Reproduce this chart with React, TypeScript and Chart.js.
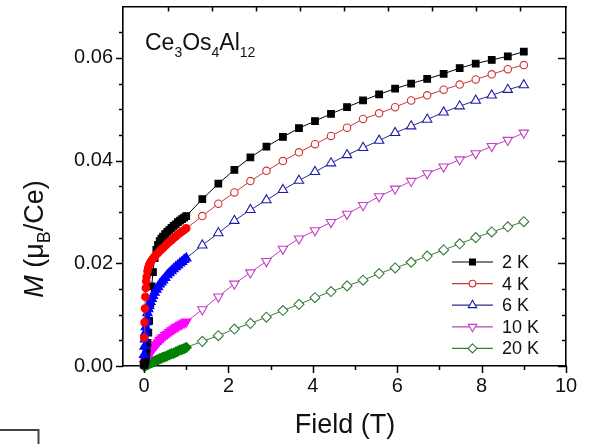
import React, { useEffect, useRef } from "react";
import { Chart, registerables } from "chart.js";

Chart.register(...registerables);

// ---------- DATA ----------
// Field values (T): dense low-field sweep, then sparse high-field points
const fieldLow = [0, 0.01, 0.02, 0.03, 0.04, 0.05, 0.06, 0.08, 0.1, 0.12, 0.15, 0.18, 0.21, 0.25, 0.29, 0.33, 0.37, 0.41, 0.45, 0.5, 0.55, 0.6, 0.65, 0.7, 0.75, 0.8, 0.85, 0.9, 0.95, 1.0];
const fieldHigh = [1.38, 1.76, 2.14, 2.52, 2.9, 3.29, 3.67, 4.05, 4.43, 4.81, 5.19, 5.57, 5.95, 6.33, 6.71, 7.1, 7.48, 7.86, 8.24, 8.62, 9.0];

const m2KLow = [0.0002, 0.0004, 0.0007, 0.0011, 0.0016, 0.0022, 0.0029, 0.0045, 0.0065, 0.0088, 0.0122, 0.0155, 0.0183, 0.021, 0.0226, 0.0236, 0.0243, 0.0248, 0.0252, 0.0257, 0.0261, 0.0265, 0.0269, 0.0273, 0.0276, 0.028, 0.0283, 0.0286, 0.0289, 0.0292];
const m2KHigh = [0.0325, 0.0355, 0.0382, 0.0406, 0.0427, 0.0446, 0.0463, 0.0477, 0.0491, 0.0504, 0.0517, 0.0529, 0.054, 0.055, 0.0559, 0.0569, 0.058, 0.0589, 0.0596, 0.0603, 0.0612];

const m4KLow = [0.0055, 0.0085, 0.0112, 0.0135, 0.0152, 0.0165, 0.0174, 0.0185, 0.0192, 0.0197, 0.0202, 0.0206, 0.0209, 0.0213, 0.0217, 0.022, 0.0224, 0.0227, 0.023, 0.0234, 0.0238, 0.0242, 0.0245, 0.0249, 0.0252, 0.0256, 0.0259, 0.0262, 0.0265, 0.0268];
const m4KHigh = [0.0292, 0.0316, 0.0338, 0.036, 0.038, 0.0399, 0.0416, 0.0432, 0.0448, 0.0464, 0.0481, 0.0492, 0.0504, 0.0517, 0.0527, 0.0538, 0.0548, 0.0558, 0.0568, 0.0578, 0.0586];

const m6KLow = [0.0022, 0.0038, 0.0052, 0.0065, 0.0076, 0.0085, 0.0092, 0.0103, 0.0111, 0.0117, 0.0125, 0.0131, 0.0137, 0.0143, 0.0149, 0.0154, 0.0159, 0.0163, 0.0167, 0.0172, 0.0177, 0.0181, 0.0185, 0.0189, 0.0193, 0.0196, 0.02, 0.0203, 0.0207, 0.021];
const m6KHigh = [0.0235, 0.0259, 0.0283, 0.0304, 0.0323, 0.0343, 0.0361, 0.0378, 0.0395, 0.0411, 0.0425, 0.0439, 0.0454, 0.0467, 0.048, 0.0494, 0.0506, 0.0517, 0.0527, 0.0538, 0.0547];

const m10KLow = [0.0003, 0.0004, 0.0006, 0.0008, 0.001, 0.0011, 0.0013, 0.0016, 0.0019, 0.0022, 0.0026, 0.003, 0.0034, 0.0038, 0.0042, 0.0046, 0.005, 0.0053, 0.0056, 0.006, 0.0063, 0.0066, 0.0069, 0.0072, 0.0075, 0.0077, 0.008, 0.0082, 0.0084, 0.0086];
const m10KHigh = [0.011, 0.0135, 0.016, 0.0182, 0.0204, 0.0228, 0.0248, 0.0264, 0.028, 0.0296, 0.0313, 0.033, 0.0345, 0.036, 0.0375, 0.0388, 0.0402, 0.0414, 0.0428, 0.044, 0.0454];

const m20KLow = [0.0, 0.0001, 0.0001, 0.0002, 0.0002, 0.0002, 0.0003, 0.0003, 0.0004, 0.0005, 0.0006, 0.0007, 0.0008, 0.0009, 0.0011, 0.0012, 0.0014, 0.0015, 0.0017, 0.0018, 0.002, 0.0022, 0.0024, 0.0025, 0.0027, 0.0029, 0.0031, 0.0032, 0.0034, 0.0036];
const m20KHigh = [0.0048, 0.0059, 0.0072, 0.0083, 0.0095, 0.0108, 0.012, 0.0133, 0.0145, 0.0156, 0.0167, 0.018, 0.0191, 0.0202, 0.0214, 0.0226, 0.0238, 0.025, 0.0261, 0.0271, 0.0281];

const seriesLabels = ["2 K", "4 K", "6 K", "10 K", "20 K"];

const xTickValues = [0, 2, 4, 6, 8, 10];
const xMinorTicks = [1, 3, 5, 7, 9];
const yTickValues = [0, 0.02, 0.04, 0.06];
const yMinorTicks = [0.005, 0.01, 0.015, 0.025, 0.03, 0.035, 0.045, 0.05, 0.055, 0.065];
const topTicks = [1, 2, 3, 4, 5, 6, 7, 8, 9];

// ---------- STYLES ----------
const FONT = "'Liberation Sans', Arial, Helvetica, sans-serif";
const LOW_COUNT = fieldLow.length;

const seriesStyles = [
  { line: "#000000", edge: "#000000", dense: "#000000", filled: true, style: "rect", rot: 0, r: 4.7, order: 3 },
  { line: "#c43a3a", edge: "#d03030", dense: "#ff0000", filled: false, style: "circle", rot: 0, r: 3.7, order: 1 },
  { line: "#2b2b8c", edge: "#1c1ca8", dense: "#0000ff", filled: false, style: "triangle", rot: 0, r: 5.4, order: 2 },
  { line: "#c040c0", edge: "#c03ec0", dense: "#ff00ff", filled: false, style: "triangle", rot: 180, r: 5.4, order: 4 },
  { line: "#3c7c3c", edge: "#3a7a3a", dense: "#008000", filled: false, style: "rectRot", rot: 0, r: 5.0, order: 5 },
];

const seriesLow = [m2KLow, m4KLow, m6KLow, m10KLow, m20KLow];
const seriesHigh = [m2KHigh, m4KHigh, m6KHigh, m10KHigh, m20KHigh];

function drawMarker(ctx: CanvasRenderingContext2D, style: string, x: number, y: number, r: number, rot: number, fill: string, stroke: string) {
  ctx.beginPath();
  if (style === "rect") {
    const s = r * Math.SQRT1_2;
    ctx.rect(x - s, y - s, 2 * s, 2 * s);
  } else if (style === "circle") {
    ctx.arc(x, y, r, 0, Math.PI * 2);
  } else if (style === "triangle") {
    let a = (rot * Math.PI) / 180;
    for (let i = 0; i < 3; i++) {
      const px = x + Math.sin(a) * r;
      const py = y - Math.cos(a) * r;
      if (i === 0) ctx.moveTo(px, py);
      else ctx.lineTo(px, py);
      a += (2 * Math.PI) / 3;
    }
    ctx.closePath();
  } else if (style === "rectRot") {
    ctx.moveTo(x, y - r);
    ctx.lineTo(x + r, y);
    ctx.lineTo(x, y + r);
    ctx.lineTo(x - r, y);
    ctx.closePath();
  }
  ctx.fillStyle = fill;
  ctx.fill();
  ctx.strokeStyle = stroke;
  ctx.lineWidth = 1.1;
  ctx.stroke();
}

const decorPlugin = {
  id: "decor",
  afterDraw(chart: any) {
    const ctx: CanvasRenderingContext2D = chart.ctx;
    const area = chart.chartArea;
    const xs = chart.scales.x;
    const ys = chart.scales.y;
    const xt = chart.scales.xTop;
    ctx.save();
    ctx.strokeStyle = "#000";
    ctx.lineWidth = 1.5;
    const seg = (x1: number, y1: number, x2: number, y2: number) => {
      ctx.beginPath();
      ctx.moveTo(x1, y1);
      ctx.lineTo(x2, y2);
      ctx.stroke();
    };
    xTickValues.forEach((v) => {
      const p = Math.round(xs.getPixelForValue(v)) + 0.5;
      seg(p, area.bottom, p, area.bottom + 7);
    });
    xMinorTicks.forEach((v) => {
      const p = Math.round(xs.getPixelForValue(v)) + 0.5;
      seg(p, area.bottom, p, area.bottom + 4);
    });
    yTickValues.forEach((v) => {
      const p = Math.round(ys.getPixelForValue(v)) + 0.5;
      seg(area.left, p, area.left - 7, p);
      seg(area.right, p, area.right - 8, p);
    });
    yMinorTicks.forEach((v) => {
      const p = Math.round(ys.getPixelForValue(v)) + 0.5;
      seg(area.left, p, area.left - 4, p);
      seg(area.right, p, area.right - 4, p);
    });
    topTicks.forEach((v) => {
      const p = Math.round(xt.getPixelForValue(v)) + 0.5;
      seg(p, area.top, p, area.top + 5);
    });

    // stray box at bottom-left of the figure
    ctx.strokeStyle = "#444";
    ctx.lineWidth = 2;
    ctx.beginPath();
    ctx.moveTo(0, 430);
    ctx.lineTo(38.5, 430);
    ctx.lineTo(38.5, 444);
    ctx.stroke();

    ctx.fillStyle = "#111";
    // x title
    ctx.font = `27px ${FONT}`;
    ctx.textAlign = "center";
    ctx.textBaseline = "alphabetic";
    ctx.fillText("Field (T)", 345, 433);

    // y title (rotated) M (μB/Ce)
    ctx.save();
    ctx.translate(43, 239);
    ctx.rotate(-Math.PI / 2);
    ctx.textAlign = "left";
    const parts = [
      { t: "M", f: `italic 27px ${FONT}`, dy: 0 },
      { t: " (\u03bc", f: `27px ${FONT}`, dy: 0 },
      { t: "B", f: `18px ${FONT}`, dy: 7 },
      { t: "/Ce)", f: `27px ${FONT}`, dy: 0 },
    ];
    let total = 0;
    parts.forEach((p) => {
      ctx.font = p.f;
      total += ctx.measureText(p.t).width;
    });
    let cx = -total / 2;
    parts.forEach((p) => {
      ctx.font = p.f;
      ctx.fillText(p.t, cx, p.dy);
      cx += ctx.measureText(p.t).width;
    });
    ctx.restore();

    // annotation Ce3Os4Al12
    ctx.textAlign = "left";
    const ann = [
      { t: "Ce", f: `23px ${FONT}`, dy: 0 },
      { t: "3", f: `14px ${FONT}`, dy: 7 },
      { t: "Os", f: `23px ${FONT}`, dy: 0 },
      { t: "4", f: `14px ${FONT}`, dy: 7 },
      { t: "Al", f: `23px ${FONT}`, dy: 0 },
      { t: "12", f: `14px ${FONT}`, dy: 7 },
    ];
    let ax = 145;
    ann.forEach((p) => {
      ctx.font = p.f;
      ctx.fillText(p.t, ax, 50 + p.dy);
      ax += ctx.measureText(p.t).width;
    });

    // legend
    const legX1 = 452;
    const legX2 = 493;
    const legY0 = 262;
    const legDy = 21.6;
    seriesLabels.forEach((lab, i) => {
      const st = seriesStyles[i];
      const yy = legY0 + i * legDy;
      ctx.strokeStyle = st.line;
      ctx.lineWidth = 1.2;
      seg(legX1, yy, legX2, yy);
      drawMarker(ctx, st.style, (legX1 + legX2) / 2, yy, st.r * 0.9, st.rot, st.filled ? st.dense : "#fff", st.edge);
      ctx.fillStyle = "#111";
      ctx.font = `18px ${FONT}`;
      ctx.textBaseline = "middle";
      ctx.fillText(lab, 502, yy + 1);
      ctx.textBaseline = "alphabetic";
    });
    ctx.restore();
  },
};

const noPad = (s: any) => {
  s.paddingTop = 0;
  s.paddingBottom = 0;
  s.paddingLeft = 0;
  s.paddingRight = 0;
};

export default function App() {
  const canvasRef = useRef<HTMLCanvasElement | null>(null);

  useEffect(() => {
    const canvas = canvasRef.current;
    if (!canvas) return;
    const fields = [...fieldLow, ...fieldHigh];
    const datasets = seriesLabels.map((label, i) => {
      const st = seriesStyles[i];
      const values = [...seriesLow[i], ...seriesHigh[i]];
      return {
        label,
        data: fields.map((f, k) => ({ x: f, y: values[k] })),
        showLine: true,
        borderColor: st.line,
        borderWidth: 1,
        tension: 0,
        order: st.order,
        pointStyle: st.style,
        rotation: st.rot,
        pointRadius: st.r,
        pointBorderWidth: 1.1,
        pointBackgroundColor: (c: any) => (c.dataIndex < LOW_COUNT || st.filled ? st.dense : "#ffffff"),
        pointBorderColor: (c: any) => (c.dataIndex < LOW_COUNT ? st.dense : st.edge),
        clip: false,
      };
    });

    const chart = new Chart(canvas, {
      type: "scatter",
      data: { datasets } as any,
      options: {
        animation: false,
        responsive: false,
        devicePixelRatio: 1,
        layout: { padding: 0 },
        plugins: {
          legend: { display: false },
          tooltip: { enabled: false },
          title: { display: false },
        },
        scales: {
          x: {
            type: "linear",
            position: "bottom",
            min: -0.5,
            max: 10,
            afterBuildTicks: (s: any) => {
              s.ticks = xTickValues.map((v) => ({ value: v }));
            },
            afterFit: (s: any) => {
              s.height = 78;
              noPad(s);
            },
            grid: { display: true, drawOnChartArea: false, drawTicks: false },
            border: { display: true, color: "#000", width: 1.6 },
            ticks: {
              autoSkip: false,
              maxRotation: 0,
              padding: 8,
              color: "#111",
              font: { family: FONT, size: 20 },
              callback: (v: any) => String(v),
            },
          },
          xTop: {
            type: "linear",
            position: "top",
            min: -0.03,
            max: 10.04,
            afterFit: (s: any) => {
              s.height = 6;
              noPad(s);
            },
            grid: { display: true, drawOnChartArea: false, drawTicks: false },
            border: { display: true, color: "#000", width: 1.6 },
            ticks: { display: false },
          },
          y: {
            type: "linear",
            position: "left",
            min: 0,
            max: 0.07,
            afterBuildTicks: (s: any) => {
              s.ticks = yTickValues.map((v) => ({ value: v }));
            },
            afterFit: (s: any) => {
              s.width = 123;
              noPad(s);
            },
            grid: { display: true, drawOnChartArea: false, drawTicks: false },
            border: { display: true, color: "#000", width: 1.6 },
            ticks: {
              autoSkip: false,
              padding: 10,
              color: "#111",
              font: { family: FONT, size: 20 },
              callback: (v: any) => Number(v).toFixed(2),
            },
          },
          yRight: {
            type: "linear",
            position: "right",
            min: 0,
            max: 0.07,
            afterFit: (s: any) => {
              s.width = 23;
              noPad(s);
            },
            grid: { display: true, drawOnChartArea: false, drawTicks: false },
            border: { display: true, color: "#000", width: 1.6 },
            ticks: { display: false },
          },
        },
      } as any,
      plugins: [decorPlugin as any],
    });
    return () => chart.destroy();
  }, []);

  return (
    <div style={{ position: "fixed", left: 0, top: 0, width: 589, height: 444, background: "#fff" }}>
      <canvas ref={canvasRef} width={589} height={444} style={{ display: "block", width: 589, height: 444 }} />
    </div>
  );
}
